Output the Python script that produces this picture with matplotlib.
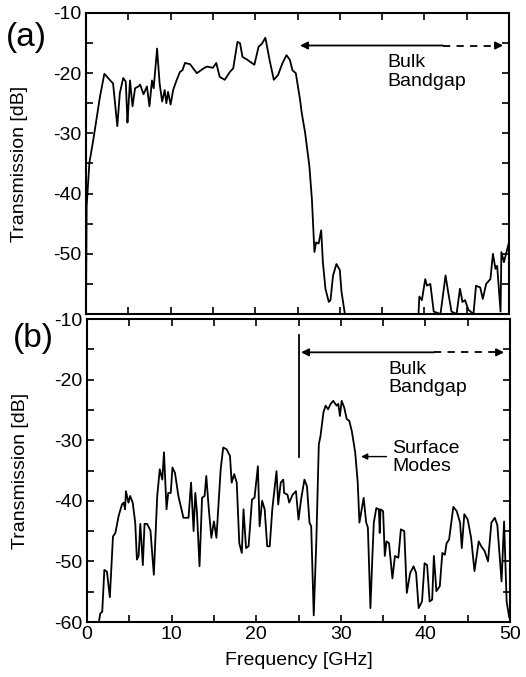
import matplotlib
matplotlib.use("Agg")
import matplotlib.pyplot as plt
from matplotlib.ticker import MultipleLocator

plt.rcParams['font.family'] = ['Liberation Sans', 'DejaVu Sans']
plt.rcParams['axes.unicode_minus'] = False

# (a) transmission spectrum
freq_a = [0.0, 0.08, 0.4, 0.87, 1.65, 2.17, 2.8, 3.2, 3.7, 4.0, 4.4, 4.7, 4.9, 5.0, 5.2,
          5.5, 5.8, 6.2, 6.4, 6.8, 7.2, 7.5, 7.8, 8.0, 8.4, 8.7, 9.0, 9.3, 9.5, 9.7,
          10.0, 10.3, 10.7, 11.1, 11.4, 11.7, 12.3, 13.1, 13.9, 14.3, 15.0, 15.4, 15.8,
          16.4, 17.0, 17.4, 17.9, 18.2, 18.5, 19.0, 19.4, 19.9, 20.4, 20.8, 21.2, 21.7,
          22.2, 22.7, 23.2, 23.7, 24.1, 24.4, 24.8, 25.3, 25.5, 25.9, 26.4, 26.7, 27.0,
          27.2, 27.5, 27.8, 28.0, 28.3, 28.7, 28.9, 29.2, 29.6, 30.0, 30.2, 30.6, 35.0,
          39.3, 39.4, 39.7, 40.1, 40.3, 40.7, 41.1, 41.9, 42.5, 42.8, 43.2, 43.8, 44.2,
          44.5, 44.8, 45.2, 45.8, 46.1, 46.6, 46.9, 47.3, 47.8, 48.1, 48.4, 48.6, 49.0,
          49.1, 49.4, 49.7, 50.0]
trans_a = [-60.0, -42.0, -34.9, -31.0, -23.9, -20.1, -21.1, -21.7, -28.8, -23.3, -20.8, -21.4,
           -28.2, -26.0, -21.2, -25.5, -22.5, -22.2, -21.9, -23.5, -22.2, -25.5, -21.2,
           -22.5, -15.9, -21.7, -24.7, -22.8, -25.0, -23.1, -25.2, -22.8, -21.2, -19.8,
           -19.5, -18.3, -18.5, -20.0, -19.2, -18.9, -19.1, -18.3, -20.6, -21.1, -19.8,
           -19.2, -14.8, -15.0, -17.3, -17.7, -18.1, -18.6, -15.6, -15.1, -14.1, -17.8,
           -21.1, -20.3, -18.4, -17.0, -17.8, -19.5, -20.0, -24.4, -26.6, -29.9, -35.4,
           -40.9, -49.7, -48.1, -48.3, -46.1, -51.4, -55.8, -58.0, -57.7, -53.6, -51.7,
           -52.7, -56.3, -60.0, -60.0, -60.0, -57.1, -57.7, -54.2, -55.3, -55.0, -59.6,
           -60.0, -53.6, -56.3, -59.6, -60.0, -55.8, -58.0, -57.7, -59.3, -60.0, -55.3,
           -55.6, -57.5, -55.0, -54.2, -50.0, -52.5, -52.0, -59.6, -49.7, -51.4, -49.7,
           -48.1]

# (b) transmission spectrum with surface modes
freq_b = [0.08, 1.4, 1.57, 1.8, 2.05, 2.36, 2.7, 3.07, 3.35, 3.74, 4.13, 4.33, 4.5, 4.6, 4.9,
          5.1, 5.4, 5.7, 5.9, 6.1, 6.3, 6.6, 6.8, 7.1, 7.5, 7.9, 8.3, 8.6, 8.9, 9.1, 9.4,
          9.6, 9.9, 10.1, 10.4, 10.8, 11.4, 12.0, 12.3, 12.6, 12.8, 13.0, 13.3, 13.6,
          13.9, 14.1, 14.4, 14.7, 15.0, 15.3, 15.8, 16.1, 16.5, 16.9, 17.1, 17.4, 17.7,
          18.0, 18.3, 18.5, 18.8, 19.1, 19.5, 19.8, 20.2, 20.4, 20.7, 21.0, 21.3, 21.6,
          21.9, 22.4, 22.6, 22.9, 23.2, 23.3, 23.7, 23.9, 24.3, 24.7, 25.0, 25.3, 25.7,
          26.0, 26.3, 26.5, 26.8, 27.1, 27.4, 27.6, 27.95, 28.2, 28.5, 28.8, 29.1, 29.5,
          29.7, 29.9, 30.1, 30.4, 30.7, 31.0, 31.3, 31.7, 32.0, 32.2, 32.7, 33.0, 33.2,
          33.5, 33.7, 33.9, 34.2, 34.5, 34.6, 34.7, 35.0, 35.2, 35.4, 35.7, 36.1, 36.4,
          36.8, 37.1, 37.5, 37.8, 38.2, 38.6, 38.9, 39.2, 39.6, 39.9, 40.2, 40.5, 40.8,
          41.0, 41.3, 41.7, 42.0, 42.3, 42.5, 42.8, 43.3, 43.7, 44.1, 44.3, 44.6, 45.0,
          45.4, 45.8, 46.3, 46.6, 47.0, 47.4, 47.8, 48.2, 48.5, 49.0, 49.3, 49.6, 49.9]
trans_b = [-60.0, -60.0, -58.6, -58.3, -51.4, -51.7, -55.9, -45.9, -45.3, -42.5, -40.6, -40.3,
           -41.4, -38.4, -40.3, -39.2, -40.3, -43.6, -49.7, -49.1, -43.8, -50.6, -43.8,
           -43.8, -44.9, -52.2, -39.2, -34.8, -36.5, -32.0, -41.4, -38.7, -38.7, -34.5,
           -35.4, -39.2, -42.8, -42.8, -37.0, -45.0, -38.7, -42.0, -50.8, -39.5, -39.2,
           -35.9, -41.4, -46.1, -43.4, -46.1, -34.8, -31.2, -31.5, -32.6, -37.0, -35.6,
           -37.0, -47.0, -48.6, -41.4, -47.8, -47.5, -39.8, -39.5, -34.3, -44.2, -40.0,
           -41.4, -47.5, -47.5, -41.4, -35.1, -40.6, -37.0, -36.5, -38.7, -39.0, -40.3,
           -39.0, -38.4, -43.1, -39.8, -36.5, -37.6, -43.6, -44.2, -58.9, -47.0, -30.7,
           -29.3, -25.4, -24.3, -24.9, -24.0, -23.5, -24.3, -24.0, -26.0, -23.5, -24.6,
           -26.5, -26.8, -28.5, -32.0, -37.0, -43.6, -39.5, -43.6, -44.4, -57.7, -50.3,
           -43.6, -41.2, -41.4, -45.3, -41.4, -41.7, -49.1, -46.7, -47.0, -52.8, -49.1,
           -49.4, -44.7, -45.0, -55.2, -51.9, -50.8, -51.9, -57.7, -56.6, -50.3, -50.6,
           -56.6, -56.3, -49.1, -54.9, -54.1, -48.6, -48.9, -47.0, -46.4, -41.0, -41.7,
           -43.6, -47.8, -42.2, -43.1, -46.1, -51.6, -46.7, -47.5, -48.3, -50.0, -43.6,
           -42.8, -44.0, -53.3, -43.4, -56.6, -59.2]

fig = plt.figure(figsize=(5.26, 6.77), dpi=100)
ax_a = fig.add_axes([0.1635, 0.5362, 0.8042, 0.4446])
ax_b = fig.add_axes([0.1654, 0.0812, 0.8042, 0.4476])

fs = 14
for ax in (ax_a, ax_b):
    ax.set_xlim(0, 50)
    ax.set_ylim(-60, -10)
    ax.xaxis.set_major_locator(MultipleLocator(10))
    ax.xaxis.set_minor_locator(MultipleLocator(5))
    ax.yaxis.set_major_locator(MultipleLocator(10))
    ax.yaxis.set_minor_locator(MultipleLocator(5))
    ax.tick_params(which='both', direction='in', top=True, right=True,
                   length=5, width=1.2, labelsize=fs, pad=3)
    for sp in ax.spines.values():
        sp.set_linewidth(1.5)
    ax.set_ylabel('Transmission [dB]', fontsize=fs)
    ax.yaxis.set_label_coords(-0.137, 0.5)

ax_a.plot(freq_a, trans_a, color='black', lw=1.3)
ax_a.set_yticks([-50, -40, -30, -20, -10])
ax_a.tick_params(labelbottom=False)
ax_a.text(-0.19, 0.92, '(a)', transform=ax_a.transAxes, fontsize=24, va='center')

ax_b.plot(freq_b, trans_b, color='black', lw=1.3)
ax_b.set_xlabel('Frequency [GHz]', fontsize=fs, labelpad=6)
ax_b.text(-0.175, 0.935, '(b)', transform=ax_b.transAxes, fontsize=24, va='center')

head = dict(arrowstyle='-|>', color='black', lw=1.3, mutation_scale=11,
            shrinkA=0, shrinkB=0)

# bulk bandgap arrows
for ax, y_arr, x_dash in ((ax_a, -15.4, 42.2), (ax_b, -15.5, 41.0)):
    ax.annotate('', xy=(25.3, y_arr), xytext=(x_dash, y_arr), arrowprops=head)
    ax.plot([x_dash, 48.6], [y_arr, y_arr], color='black', lw=1.3,
            ls=(0, (4, 3.5)))
    ax.annotate('', xy=(49.3, y_arr), xytext=(48.4, y_arr), arrowprops=head)
    ax.text(35.6, -19.8, 'Bulk\nBandgap', fontsize=fs, va='center', ha='left',
            linespacing=1.1)

ax_b.plot([25, 25], [-12.7, -32.7], color='black', lw=1.3)
ax_b.annotate('', xy=(32.4, -32.7), xytext=(35.4, -32.7),
              arrowprops=dict(arrowstyle='-|>', color='black', lw=1.0,
                              mutation_scale=9, shrinkA=0, shrinkB=0))
ax_b.text(36.1, -32.9, 'Surface\nModes', fontsize=fs, va='center', ha='left',
          linespacing=1.1)

fig.savefig('out.png', dpi=100)
